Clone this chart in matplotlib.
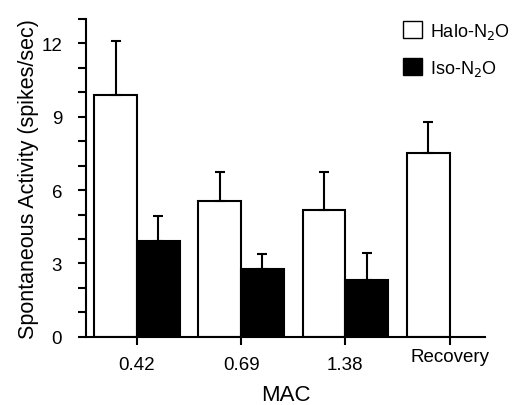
import numpy as np
import matplotlib.pyplot as plt
import matplotlib.transforms as mtransforms
from matplotlib.patches import Patch

plt.rcParams['font.family'] = ['Liberation Sans', 'DejaVu Sans']

# data
mac_labels = ['0.42', '0.69', '1.38', 'Recovery']
halo_mean = [9.9, 5.55, 5.2, 7.5]
halo_err = [2.2, 1.2, 1.55, 1.3]
iso_mean = [3.9, 2.78, 2.34]
iso_err = [1.05, 0.62, 1.08]

x = np.arange(len(mac_labels))
width = 0.41

fig = plt.figure(figsize=(5.17, 4.06), dpi=100)
ax = fig.add_axes([0.166, 0.168, 0.772, 0.783])

# halo bars sit left of tick, iso bars right of tick
ax.bar(x - width / 2, halo_mean, width, color='white', edgecolor='black', linewidth=1.5,
       yerr=[np.zeros(len(halo_err)), halo_err], capsize=3.5,
       error_kw=dict(elinewidth=1.5, capthick=1.5, ecolor='black'), zorder=2)
xi = x[:len(iso_mean)]
ax.bar(xi + width / 2, iso_mean, width, color='black', edgecolor='black', linewidth=1.5,
       yerr=[np.zeros(len(iso_err)), iso_err], capsize=3.5,
       error_kw=dict(elinewidth=1.5, capthick=1.5, ecolor='black'), zorder=2)

ax.set_ylim(0, 13)
ax.set_xlim(-0.49, 3.34)
ax.set_yticks([0, 3, 6, 9, 12])
ax.set_yticks(np.arange(0, 14, 1), minor=True)
ax.set_xticks(x)
ax.set_xticklabels(mac_labels)

for side in ['top', 'right']:
    ax.spines[side].set_visible(False)
for side in ['left', 'bottom']:
    ax.spines[side].set_linewidth(1.5)

ax.tick_params(axis='both', which='both', direction='out', width=1.5, length=6,
               labelsize=13.5)
ax.tick_params(axis='y', which='minor', length=6)
ax.tick_params(axis='x', pad=8)
ax.tick_params(axis='y', pad=11)

# recovery label sits a bit higher
lab = ax.get_xticklabels()[-1]
lab.set_transform(lab.get_transform() + mtransforms.ScaledTranslation(0, 6 / 72, fig.dpi_scale_trans))

ax.set_xlabel('MAC', fontsize=16, labelpad=8)
ax.set_ylabel('Spontaneous Activity (spikes/sec)', fontsize=15.5, labelpad=2)

handles = [Patch(facecolor='white', edgecolor='black', linewidth=1.0),
           Patch(facecolor='black', edgecolor='black', linewidth=1.0)]
ax.legend(handles, ['Halo-N$_2$O', 'Iso-N$_2$O'], loc='upper left',
          bbox_to_anchor=(0.755, 1.045), frameon=False, fontsize=13,
          handlelength=1.05, handleheight=1.05, handletextpad=0.45, labelspacing=0.95)

fig.savefig('out.png', dpi=100)
